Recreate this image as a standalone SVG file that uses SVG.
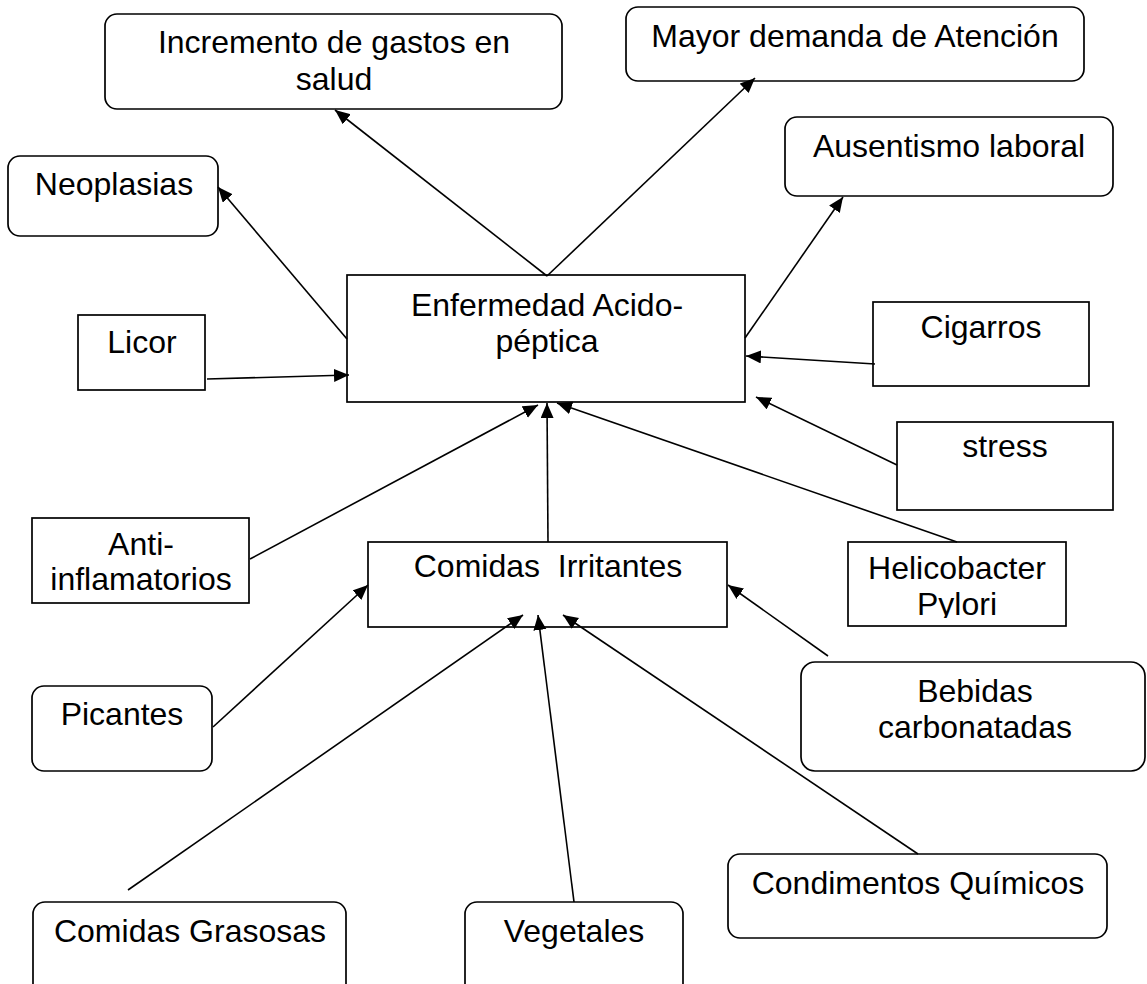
<svg xmlns="http://www.w3.org/2000/svg" width="1147" height="984" viewBox="0 0 1147 984">
<style>
.b{fill:#fff;stroke:#000;stroke-width:1.7}
.t{font-family:"Liberation Sans",Arial,sans-serif;font-size:32px;fill:#000;text-anchor:middle}
.c line{stroke:#000;stroke-width:1.6;marker-end:url(#ah)}
</style>
<defs>
<marker id="ah" markerUnits="userSpaceOnUse" markerWidth="16" markerHeight="14" refX="15" refY="6.5" orient="auto"><path d="M0,0 L15,6.5 L0,13 z" fill="#000"/></marker>
<clipPath id="hpclip"><rect x="848" y="540" width="218" height="78"/></clipPath>
</defs>
<rect width="1147" height="984" fill="#fff"/>
<g id="incremento"><rect class="b" x="105" y="14" width="457" height="95" rx="12"/><text class="t" x="334" y="53">Incremento de gastos en</text><text class="t" x="334" y="90">salud</text></g>
<g id="mayor"><rect class="b" x="626" y="7" width="458" height="74" rx="12"/><text class="t" x="855" y="47">Mayor demanda de Atención</text></g>
<g id="ausentismo"><rect class="b" x="785" y="117" width="328" height="79" rx="12"/><text class="t" x="949" y="157">Ausentismo laboral</text></g>
<g id="neoplasias"><rect class="b" x="8" y="156" width="210" height="80" rx="12"/><text class="t" x="114" y="195">Neoplasias</text></g>
<g id="enfermedad"><rect class="b" x="347" y="275" width="398" height="127"/><text class="t" x="547" y="316">Enfermedad Acido-</text><text class="t" x="547" y="352">péptica</text></g>
<g id="licor"><rect class="b" x="78" y="315" width="127" height="75"/><text class="t" x="142" y="353">Licor</text></g>
<g id="cigarros"><rect class="b" x="873" y="302" width="216" height="84"/><text class="t" x="981" y="338">Cigarros</text></g>
<g id="stress"><rect class="b" x="897" y="422" width="216" height="88"/><text class="t" x="1005" y="457">stress</text></g>
<g id="anti"><rect class="b" x="32" y="518" width="217" height="85"/><text class="t" x="141" y="555">Anti-</text><text class="t" x="141" y="590">inflamatorios</text></g>
<g id="comidas-irritantes"><rect class="b" x="368" y="542" width="359" height="85"/><text class="t" x="548" y="577" xml:space="preserve">Comidas  Irritantes</text></g>
<g id="helicobacter"><rect class="b" x="848" y="542" width="218" height="84"/><text class="t" x="957" y="579">Helicobacter</text><text class="t" x="957" y="615" clip-path="url(#hpclip)">Pylori</text></g>
<g id="picantes"><rect class="b" x="32" y="686" width="180" height="85" rx="12"/><text class="t" x="122" y="725">Picantes</text></g>
<g id="bebidas"><rect class="b" x="801" y="662" width="344" height="109" rx="14"/><text class="t" x="975" y="702">Bebidas</text><text class="t" x="975" y="738">carbonatadas</text></g>
<g id="condimentos"><rect class="b" x="728" y="854" width="379" height="84" rx="12"/><text class="t" x="918" y="894">Condimentos Químicos</text></g>
<g id="grasosas"><rect class="b" x="33" y="902" width="313" height="100" rx="12"/><text class="t" x="190" y="942">Comidas Grasosas</text></g>
<g id="vegetales"><rect class="b" x="465" y="902" width="218" height="100" rx="12"/><text class="t" x="574" y="942">Vegetales</text></g>
<g id="connectors" class="c">
<line x1="547" y1="276" x2="335" y2="110"/>
<line x1="547" y1="276" x2="755" y2="78"/>
<line x1="347" y1="339" x2="218" y2="187"/>
<line x1="745" y1="338" x2="843" y2="197"/>
<line x1="207" y1="379" x2="349" y2="375"/>
<line x1="875" y1="364" x2="746" y2="356"/>
<line x1="897" y1="465" x2="756" y2="397"/>
<line x1="250" y1="559" x2="538" y2="405"/>
<line x1="548" y1="542" x2="547" y2="403"/>
<line x1="957" y1="542" x2="557" y2="403"/>
<line x1="213" y1="727" x2="368" y2="585"/>
<line x1="828" y1="656" x2="728" y2="585"/>
<line x1="128" y1="890" x2="523" y2="615"/>
<line x1="574" y1="902" x2="538" y2="615"/>
<line x1="918" y1="854" x2="563" y2="615"/>
</g>
</svg>
